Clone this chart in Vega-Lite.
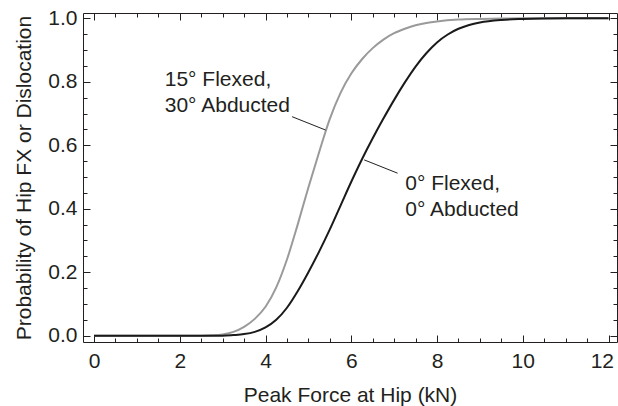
{
  "$schema": "https://vega.github.io/schema/vega-lite/v6.json",
  "width": 534,
  "height": 329,
  "autosize": {"type": "none"},
  "padding": {"left": 83, "top": 13, "right": 1, "bottom": 64},
  "background": "white",
  "config": {
    "view": {"stroke": "#231f20", "strokeWidth": 1},
    "font": "Liberation Sans",
    "axis": {
      "grid": false,
      "domain": false,
      "tickColor": "#231f20",
      "tickWidth": 1,
      "labelFont": "Liberation Sans",
      "labelFontSize": 21,
      "labelColor": "#231f20",
      "titleFont": "Liberation Sans",
      "titleFontSize": 21,
      "titleFontWeight": "normal",
      "titleColor": "#231f20"
    }
  },
  "datasets": {
    "gray": [
      {"x": 0, "p": 0}, {"x": 0.5, "p": 0}, {"x": 1, "p": 0}, {"x": 1.5, "p": 0}, {"x": 2, "p": 0},
      {"x": 2.5, "p": 0}, {"x": 2.75, "p": 0.001}, {"x": 3, "p": 0.004}, {"x": 3.25, "p": 0.012},
      {"x": 3.5, "p": 0.028}, {"x": 3.75, "p": 0.053}, {"x": 4, "p": 0.091}, {"x": 4.25, "p": 0.152},
      {"x": 4.5, "p": 0.24}, {"x": 4.75, "p": 0.35}, {"x": 5, "p": 0.467}, {"x": 5.25, "p": 0.578},
      {"x": 5.5, "p": 0.683}, {"x": 5.75, "p": 0.765}, {"x": 6, "p": 0.826}, {"x": 6.25, "p": 0.871},
      {"x": 6.5, "p": 0.906}, {"x": 6.75, "p": 0.933}, {"x": 7, "p": 0.953}, {"x": 7.25, "p": 0.967},
      {"x": 7.5, "p": 0.978}, {"x": 7.75, "p": 0.985}, {"x": 8, "p": 0.99}, {"x": 8.5, "p": 0.996},
      {"x": 9, "p": 0.998}, {"x": 9.5, "p": 0.999}, {"x": 10, "p": 1}, {"x": 11, "p": 1}, {"x": 12, "p": 1}
    ],
    "black": [
      {"x": 0, "p": 0}, {"x": 0.5, "p": 0}, {"x": 1, "p": 0}, {"x": 1.5, "p": 0}, {"x": 2, "p": 0},
      {"x": 2.5, "p": 0}, {"x": 3, "p": 0}, {"x": 3.25, "p": 0.002}, {"x": 3.5, "p": 0.005},
      {"x": 3.75, "p": 0.012}, {"x": 4, "p": 0.026}, {"x": 4.25, "p": 0.05}, {"x": 4.5, "p": 0.088},
      {"x": 4.75, "p": 0.14}, {"x": 5, "p": 0.2}, {"x": 5.25, "p": 0.265}, {"x": 5.5, "p": 0.335},
      {"x": 5.75, "p": 0.41}, {"x": 6, "p": 0.485}, {"x": 6.25, "p": 0.556}, {"x": 6.5, "p": 0.622},
      {"x": 6.75, "p": 0.684}, {"x": 7, "p": 0.743}, {"x": 7.25, "p": 0.798}, {"x": 7.5, "p": 0.848},
      {"x": 7.75, "p": 0.89}, {"x": 8, "p": 0.924}, {"x": 8.25, "p": 0.949}, {"x": 8.5, "p": 0.967},
      {"x": 8.75, "p": 0.979}, {"x": 9, "p": 0.987}, {"x": 9.5, "p": 0.995}, {"x": 10, "p": 0.998},
      {"x": 10.5, "p": 0.9995}, {"x": 11, "p": 1}, {"x": 12, "p": 1}
    ],
    "labels": [
      {"x": 1.65, "p": 0.787, "t": "15° Flexed,\n30° Abducted"},
      {"x": 7.26, "p": 0.459, "t": "0° Flexed,\n0° Abducted"}
    ],
    "leaders": [
      {"x": 4.62, "p": 0.69, "x2": 5.4, "p2": 0.648},
      {"x": 6.3, "p": 0.554, "x2": 7.08, "p2": 0.512}
    ]
  },
  "resolve": {"axis": {"x": "independent", "y": "independent"}},
  "layer": [
    {
      "data": {"name": "gray"},
      "mark": {"type": "line", "color": "#9a9a9a", "strokeWidth": 2, "interpolate": "monotone"},
      "encoding": {
        "x": {"field": "x", "type": "quantitative",
          "scale": {"domain": [-0.257, 12.198], "nice": false, "zero": false},
          "axis": {"orient": "bottom", "values": [0, 2, 4, 6, 8, 10, 12], "tickSize": 7, "offset": -7, "labelPadding": 8,
            "labelFlush": 10, "labelFlushOffset": 5,
            "title": "Peak Force at Hip (kN)", "titlePadding": 13}},
        "y": {"field": "p", "type": "quantitative",
          "scale": {"domain": [-0.0199, 1.0167], "nice": false, "zero": false},
          "axis": {"orient": "left", "values": [0, 0.2, 0.4, 0.6, 0.8, 1], "format": ".1f", "tickSize": 7, "offset": -7, "labelPadding": 6,
            "title": "Probability of Hip FX or Dislocation", "titlePadding": 13}}
      }
    },
    {
      "data": {"name": "black"},
      "mark": {"type": "line", "color": "#1a1a1a", "strokeWidth": 2, "interpolate": "monotone"},
      "encoding": {
        "x": {"field": "x", "type": "quantitative",
          "scale": {"domain": [-0.257, 12.198], "nice": false, "zero": false},
          "axis": {"orient": "bottom", "values": [0.5, 1, 1.5, 2.5, 3, 3.5, 4.5, 5, 5.5, 6.5, 7, 7.5, 8.5, 9, 9.5, 10.5, 11, 11.5], "tickSize": 4, "offset": -4, "labels": false, "title": null}},
        "y": {"field": "p", "type": "quantitative",
          "scale": {"domain": [-0.0199, 1.0167], "nice": false, "zero": false},
          "axis": {"orient": "left", "values": [0.05, 0.1, 0.15, 0.25, 0.3, 0.35, 0.45, 0.5, 0.55, 0.65, 0.7, 0.75, 0.85, 0.9, 0.95], "tickSize": 4, "offset": -4, "labels": false, "title": null}}
      }
    },
    {
      "data": {"name": "labels"},
      "mark": {"type": "text", "align": "left", "baseline": "alphabetic", "lineBreak": "\n", "lineHeight": 26, "fontSize": 21, "font": "Liberation Sans", "color": "#231f20"},
      "encoding": {
        "x": {"field": "x", "type": "quantitative",
          "scale": {"domain": [-0.257, 12.198], "nice": false, "zero": false},
          "axis": {"orient": "top", "values": [0, 2, 4, 6, 8, 10, 12], "tickSize": 7, "offset": -7, "labels": false, "title": null}},
        "y": {"field": "p", "type": "quantitative",
          "scale": {"domain": [-0.0199, 1.0167], "nice": false, "zero": false},
          "axis": {"orient": "right", "values": [0, 0.2, 0.4, 0.6, 0.8, 1], "tickSize": 7, "offset": -7, "labels": false, "title": null}},
        "text": {"field": "t", "type": "nominal"}
      }
    },
    {
      "data": {"name": "leaders"},
      "mark": {"type": "rule", "color": "#231f20", "strokeWidth": 1},
      "encoding": {
        "x": {"field": "x", "type": "quantitative",
          "scale": {"domain": [-0.257, 12.198], "nice": false, "zero": false},
          "axis": {"orient": "top", "values": [0.5, 1, 1.5, 2.5, 3, 3.5, 4.5, 5, 5.5, 6.5, 7, 7.5, 8.5, 9, 9.5, 10.5, 11, 11.5], "tickSize": 4, "offset": -4, "labels": false, "title": null}},
        "y": {"field": "p", "type": "quantitative",
          "scale": {"domain": [-0.0199, 1.0167], "nice": false, "zero": false},
          "axis": {"orient": "right", "values": [0.05, 0.1, 0.15, 0.25, 0.3, 0.35, 0.45, 0.5, 0.55, 0.65, 0.7, 0.75, 0.85, 0.9, 0.95], "tickSize": 4, "offset": -4, "labels": false, "title": null}},
        "x2": {"field": "x2"},
        "y2": {"field": "p2"}
      }
    }
  ]
}
